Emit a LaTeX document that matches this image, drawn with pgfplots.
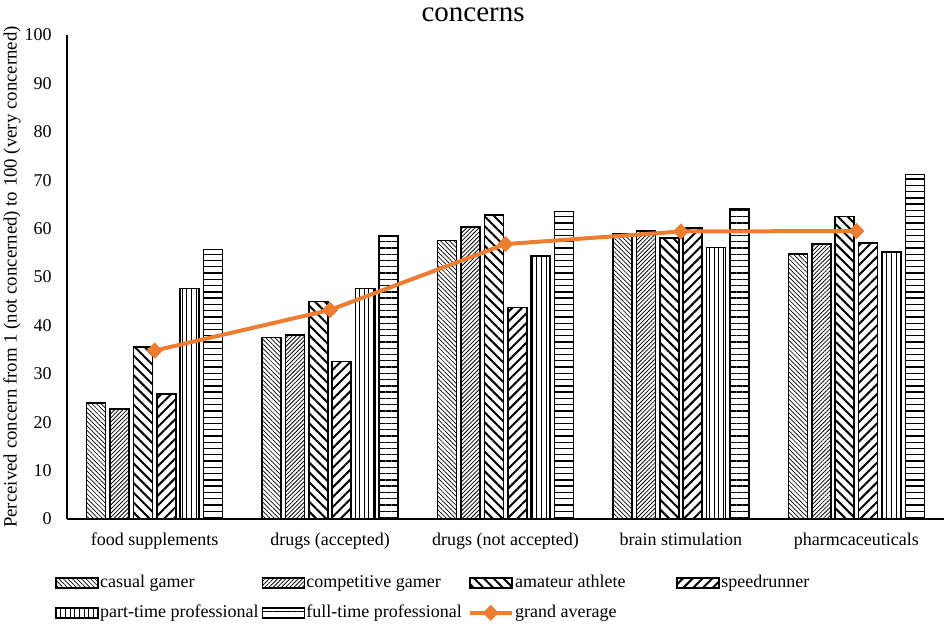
\documentclass[border=0pt]{standalone}
\usepackage{fontspec}
\setmainfont{Liberation Serif}
\usepackage{pgfplots}
\pgfplotsset{compat=1.18}
\usetikzlibrary{patterns.meta}
\definecolor{avgorange}{RGB}{237,125,49}
\pgfplotsset{
  barlegend/.style={legend image code/.code={\draw[##1] (0pt,-3.75pt) rectangle (31.5pt,3.75pt);}},
  avglegend/.style={legend image code/.code={\draw[mark repeat=2, mark phase=2, ##1] plot coordinates {(0pt,0pt) (15.75pt,0pt) (31.5pt,0pt)};}},
}

\begin{document}
\begin{tikzpicture}
\begin{axis}[
  name=ax,
  scale only axis, width=657.75pt, height=363pt,
  xmin=-0.5, xmax=4.5, ymin=0, ymax=100,
  axis lines*=left,
  axis line style={line width=1.1pt, -},
  xtick={0,1,2,3,4},
  xticklabels={food supplements, drugs (accepted), drugs (not accepted), brain stimulation, pharmcaceuticals},
  ytick={0,10,...,100},
  major tick length=0pt,
  tick style={draw=none},
  font=\fontsize{13.5}{16}\selectfont,
  /pgf/number format/assume math mode=true,
  yticklabel style={anchor=east, inner sep=0pt, xshift=-11.25pt},
  xticklabel style={anchor=base, inner sep=0pt, yshift=-20.25pt},
  ylabel={Perceived concern from 1 (not concerned) to 100 (very concerned)},
  ylabel style={at={(axis description cs:-0.0627,0.5)}, anchor=center, font=\fontsize{14.1}{16}\selectfont},
  clip=false,
  legend columns=4,
  legend cell align=left,
  legend style={at={(rel axis cs:0,0)}, anchor=north west, xshift=-9pt, yshift=-40.5pt,
    draw=none, fill=none, inner sep=0pt, row sep=7.2pt,
    nodes={inner sep=1pt, text height=10pt, text depth=3pt},
    font=\fontsize{13.5}{16}\selectfont},
  barlegend,
  every axis plot/.append style={line width=1.2pt},
]
% casual gamer
\addplot[ybar, bar width=14.25pt, bar shift=-43.875pt, draw=black,
  pattern={Lines[angle=-45,distance=2.4pt,line width=0.5pt]}, pattern color=black]
  coordinates {(0,24.0) (1,37.5) (2,57.5) (3,59.0) (4,54.8)};
\addlegendentry{\makebox[120pt][l]{casual gamer}}
% competitive gamer
\addplot[ybar, bar width=14.25pt, bar shift=-26.325pt, draw=black,
  pattern={Lines[angle=45,distance=2.2pt,line width=0.6pt]}, pattern color=black]
  coordinates {(0,22.7) (1,38.0) (2,60.3) (3,59.5) (4,56.8)};
\addlegendentry{\makebox[120pt][l]{competitive gamer}}
% amateur athlete
\addplot[ybar, bar width=14.25pt, bar shift=-8.775pt, draw=black,
  pattern={Lines[angle=-45,distance=5.2pt,line width=1.5pt]}, pattern color=black]
  coordinates {(0,35.5) (1,44.9) (2,62.8) (3,58.1) (4,62.5)};
\addlegendentry{\makebox[120pt][l]{amateur athlete}}
% speedrunner
\addplot[ybar, bar width=14.25pt, bar shift=8.775pt, draw=black,
  pattern={Lines[angle=45,distance=5.2pt,line width=1.5pt]}, pattern color=black]
  coordinates {(0,25.8) (1,32.5) (2,43.7) (3,60.1) (4,57.0)};
\addlegendentry{\makebox[120pt][l]{speedrunner}}
% part-time professional
\addplot[ybar, bar width=14.25pt, bar shift=26.325pt, draw=black,
  pattern={Lines[angle=90,distance=3.5pt,line width=0.6pt]}, pattern color=black]
  coordinates {(0,47.6) (1,47.6) (2,54.3) (3,56.1) (4,55.2)};
\addlegendentry{\makebox[120pt][l]{part-time professional}}
% full-time professional
\addplot[ybar, bar width=14.25pt, bar shift=43.875pt, draw=black,
  pattern={Lines[angle=0,distance=4.7pt,line width=1pt]}, pattern color=black]
  coordinates {(0,55.7) (1,58.5) (2,63.5) (3,64.0) (4,71.2)};
\addlegendentry{\makebox[120pt][l]{full-time professional}}
% grand average
\addplot[sharp plot, color=avgorange, line width=3pt, mark=square*, mark size=4pt,
  mark options={rotate=45, line width=0.5pt, fill=avgorange}, avglegend]
  coordinates {(0,34.8) (1,43.2) (2,56.8) (3,59.4) (4,59.5)};
\addlegendentry{grand average}
\coordinate (O) at (rel axis cs:0,0);
\node[anchor=base, font=\fontsize{21.75}{26}\selectfont] at ([yshift=10.2pt]rel axis cs:0.463,1) {concerns};
\end{axis}
\pgfresetboundingbox
\path[use as bounding box] ([xshift=-50.25pt,yshift=-78.75pt]O) rectangle ([xshift=659.25pt,yshift=389.25pt]O);
\end{tikzpicture}
\end{document}
